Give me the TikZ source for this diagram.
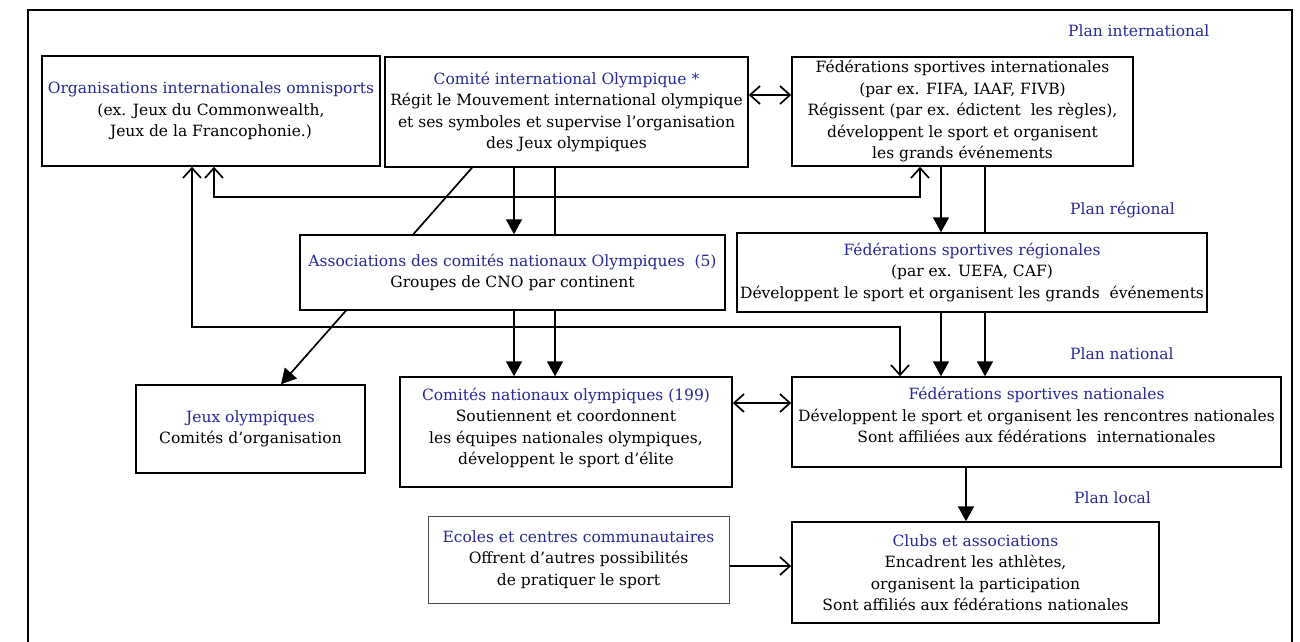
\documentclass[tikz,border=0pt]{standalone}
\usepackage{fontspec}
\setmainfont{DejaVu Serif}
\usetikzlibrary{arrows.meta,backgrounds}
\definecolor{tblue}{RGB}{40,40,150}
\begin{document}
\begin{tikzpicture}[x=1pt,y=-1pt,
  box/.style={draw=black,line width=1.5pt,fill=white,inner sep=0pt,align=center,
    font=\fontsize{15.5}{21.5}\selectfont},
  lightbox/.style={box,draw=black!70,line width=1pt},
  plan/.style={text=tblue,font=\fontsize{15.5}{18}\selectfont,inner sep=0pt,anchor=west},
  fillarr/.style={line width=1.7pt,-{Triangle[width=16pt,length=15pt]}},
  openarr/.style={line width=1.7pt,-{Straight Barb[width=18pt,length=10pt]}},
  dblopen/.style={line width=1.7pt,{Straight Barb[width=18pt,length=10pt]}-{Straight Barb[width=18pt,length=10pt]}},
  frame/.style={line width=2pt}]
\useasboundingbox (0,0) rectangle (1300,641);

% boxes
\node[box,minimum width=338,minimum height=110] (OIO) at (211,111)
  {{\color{tblue}Organisations internationales omnisports}\\(ex. Jeux du Commonwealth,\\Jeux de la Francophonie.)};
\node[box,minimum width=363,minimum height=110] (CIO) at (566.5,112)
  {{\color{tblue}Comité international Olympique *}\\Régit le Mouvement international olympique\\et ses symboles et supervise l'organisation\\des Jeux olympiques};
\node[box,minimum width=341,minimum height=109] (FSI) at (962.5,111.5)
  {Fédérations sportives internationales\\(par ex. FIFA, IAAF, FIVB)\\Régissent (par ex. édictent\ \ les règles),\\développent le sport et organisent\\les grands événements};
\node[box,minimum width=425,minimum height=75] (ACNO) at (512.5,272.5)
  {{\color{tblue}Associations des comités nationaux Olympiques\ \ (5)}\\Groupes de CNO par continent};
\node[box,minimum width=470,minimum height=79] (FSR) at (972,272.5)
  {{\color{tblue}Fédérations sportives régionales}\\(par ex. UEFA, CAF)\\Développent le sport et organisent les grands\ \ événements};
\node[box,minimum width=229,minimum height=88] (JO) at (250.5,429)
  {{\color{tblue}Jeux olympiques}\\Comités d'organisation};
\node[box,minimum width=332,minimum height=110] (CNO) at (566,432)
  {{\color{tblue}Comités nationaux olympiques (199)}\\Soutiennent et coordonnent\\les équipes nationales olympiques,\\développent le sport d'élite\\[-10pt]\mbox{}};
\node[box,minimum width=489,minimum height=90] (FSN) at (1036.5,422)
  {{\color{tblue}Fédérations sportives nationales}\\Développent le sport et organisent les rencontres nationales\\Sont affiliées aux fédérations\ \ internationales\\[-8pt]\mbox{}};
\node[lightbox,minimum width=301,minimum height=87] (EC) at (578.5,559.5)
  {{\color{tblue}Ecoles et centres communautaires}\\Offrent d'autres possibilités\\de pratiquer le sport};
\node[box,minimum width=367,minimum height=101] (CL) at (975.5,572.5)
  {{\color{tblue}Clubs et associations}\\Encadrent les athlètes,\\organisent la participation\\Sont affiliés aux fédérations nationales};

% level labels
\node[plan] (P1) at (1068,31) {Plan international};
\node[plan] (P2) at (1070,210) {Plan régional};
\node[plan] (P3) at (1070,354) {Plan national};
\node[plan] (P4) at (1074,498) {Plan local};

% helper coordinates
\coordinate (x192) at (192,0);
\coordinate (x214) at (214,0);
\coordinate (x514) at (514,0);
\coordinate (x555) at (555,0);
\coordinate (x900) at (900,0);
\coordinate (x920) at (920,0);
\coordinate (x941) at (941,0);
\coordinate (x985) at (985,0);
\coordinate (x966) at (966,0);
\coordinate (x472) at (472,0);
\coordinate (x281) at (281,0);
\coordinate (y197) at (0,197);
\coordinate (y327) at (0,327);
\coordinate (y95) at (0,95);
\coordinate (y403) at (0,403);
\coordinate (y566) at (0,566);
\coordinate (F1) at (28,660);
\coordinate (F2) at (28,10);
\coordinate (F3) at (1292,10);
\coordinate (F4) at (1292,660);

\begin{scope}[on background layer]
  \draw[frame] (F1) -- (F2) -- (F3) -- (F4);
  \draw[dblopen] (CIO.east |- y95) -- (FSI.west |- y95);
  \draw[fillarr] (CIO.south -| x472) -- (JO.north -| x281);
  \draw[fillarr] (CIO.south -| x514) -- (ACNO.north -| x514);
  \draw[fillarr] (CIO.south -| x555) -- (CNO.north -| x555);
  \draw[fillarr] (ACNO.south -| x514) -- (CNO.north -| x514);
  \draw[dblopen] (OIO.south -| x214) |- (x920 |- y197) -- (FSI.south -| x920);
  \draw[dblopen] (OIO.south -| x192) |- (x900 |- y327) -- (FSN.north -| x900);
  \draw[fillarr] (FSI.south -| x941) -- (FSR.north -| x941);
  \draw[fillarr] (FSI.south -| x985) -- (FSN.north -| x985);
  \draw[fillarr] (FSR.south -| x941) -- (FSN.north -| x941);
  \draw[dblopen] (CNO.east |- y403) -- (FSN.west |- y403);
  \draw[fillarr] (FSN.south -| x966) -- (CL.north -| x966);
  \draw[openarr] (EC.east |- y566) -- (CL.west |- y566);
\end{scope}
\end{tikzpicture}
\end{document}
